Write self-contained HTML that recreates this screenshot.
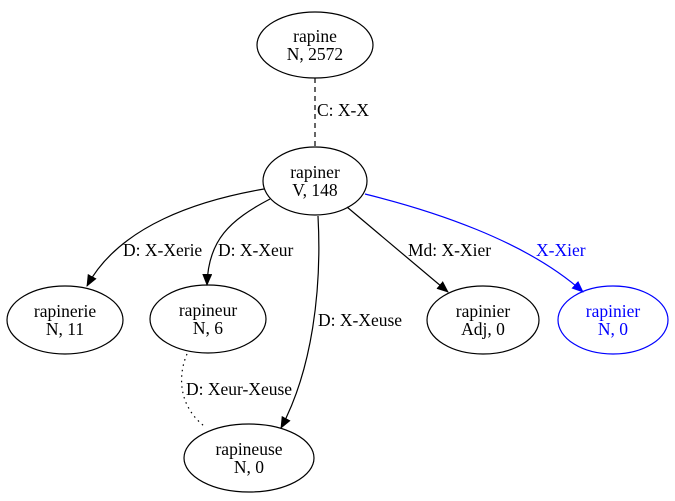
<!DOCTYPE html>
<html><head><meta charset="utf-8"><style>
html,body{margin:0;padding:0;background:#fff;}
svg{display:block;}
text{font-family:"Liberation Serif","Times New Roman",serif;font-size:17.5px;}
</style></head><body>
<svg width="675" height="501" viewBox="0 0 675 501" xmlns="http://www.w3.org/2000/svg">
<defs>
<marker id="a" markerWidth="12" markerHeight="10" refX="11" refY="5" orient="auto" markerUnits="userSpaceOnUse"><path d="M0,0 L12,5 L0,10 z" fill="#000"/></marker>
<marker id="b" markerWidth="12" markerHeight="10" refX="11" refY="5" orient="auto" markerUnits="userSpaceOnUse"><path d="M0,0 L12,5 L0,10 z" fill="#00f"/></marker>
</defs>
<g fill="none" stroke="#000" stroke-width="1.2">
<ellipse cx="315" cy="45" rx="58" ry="33"/>
<ellipse cx="315" cy="181" rx="52" ry="34"/>
<ellipse cx="65" cy="320" rx="58" ry="34"/>
<ellipse cx="208" cy="319" rx="58" ry="34"/>
<ellipse cx="249" cy="458" rx="65" ry="34"/>
<ellipse cx="483" cy="320" rx="56" ry="34"/>
<ellipse cx="613" cy="320" rx="55" ry="34" stroke="#00f"/>
<path d="M315,78 L315,147" stroke-dasharray="5,4"/>
<path d="M264,189 C200,200 120,225 87,286" marker-end="url(#a)"/>
<path d="M270,199 C230,220 208,240 207,285" marker-end="url(#a)"/>
<path d="M318,216 C322,290 312,370 281,428" marker-end="url(#a)"/>
<path d="M347,207 L448,292" marker-end="url(#a)"/>
<path d="M365,194 C430,210 525,240 583,292" stroke="#00f" marker-end="url(#b)"/>
<path d="M187,354 C178,375 178,405 204,426" stroke-dasharray="1.5,4"/>
</g>
<g text-anchor="middle" fill="#000">
<text x="315" y="42">rapine</text><text x="315" y="60">N, 2572</text>
<text x="315" y="178">rapiner</text><text x="315" y="196">V, 148</text>
<text x="65" y="317">rapinerie</text><text x="65" y="335">N, 11</text>
<text x="208" y="316">rapineur</text><text x="208" y="334">N, 6</text>
<text x="249" y="455">rapineuse</text><text x="249" y="473">N, 0</text>
<text x="483" y="317">rapinier</text><text x="483" y="335">Adj, 0</text>
<text x="613" y="317" fill="#00f">rapinier</text><text x="613" y="335" fill="#00f">N, 0</text>
</g>
<g fill="#000">
<text x="317" y="116">C: X-X</text>
<text x="123" y="256">D: X-Xerie</text>
<text x="218" y="256">D: X-Xeur</text>
<text x="318" y="326">D: X-Xeuse</text>
<text x="408" y="256">Md: X-Xier</text>
<text x="536" y="256" fill="#00f">X-Xier</text>
<text x="186" y="395">D: Xeur-Xeuse</text>
</g>
</svg>
</body></html>
